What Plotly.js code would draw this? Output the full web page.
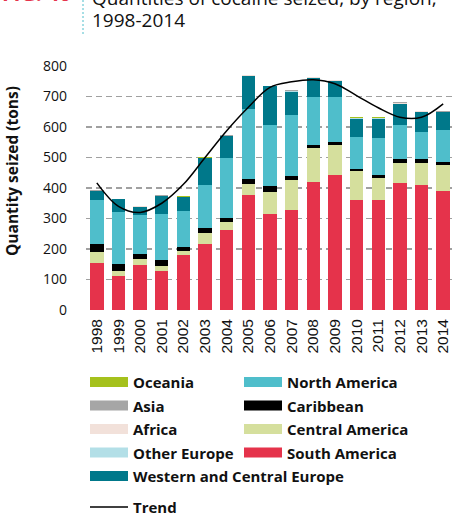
<!DOCTYPE html>
<html>
<head>
<meta charset="utf-8">
<script src="https://cdn.plot.ly/plotly-3.0.1.min.js"></script>
<style>
html,body{margin:0;padding:0;background:#fff;}
#chart{width:454px;height:520px;}
</style>
</head>
<body>
<div id="chart"></div>
<script>
var years = ["1998","1999","2000","2001","2002","2003","2004","2005","2006","2007","2008","2009","2010","2011","2012","2013","2014"];
var southAmerica   = [153,112,147,129,180,218,262,376,316,329,419,444,361,361,418,410,390];
var centralAmerica = [38,17,19,15,13,33,27,38,71,98,112,96,95,73,65,72,84];
var caribbean      = [25,21,19,20,14,18,14,16,19,11,9,10,7,8,12,14,10];
var northAmerica   = [144,172,126,150,118,142,195,230,202,200,160,148,104,122,110,87,105];
var westCentralEurope = [30,42,27,59,46,87,71,106,125,78,60,52,60,63,71,66,60];
var otherEurope    = [1,0.5,1,1,0.5,0.5,1,1,0.5,1,1,1,1,1,1,1,0.5];
var africa         = [0.8,0.4,1.5,1,0.4,0.8,2,2,0.8,2.5,2,2,2,2,2.5,1.5,1.2];
var asia           = [0.3,0.2,0.5,0.5,0.2,0.5,1,1,0.5,1,0.8,0.8,0.8,0.8,1,0.5,0.5];
var oceania        = [0.3,0.2,0.8,0.6,0.2,0.3,0.8,0.8,0.3,0.8,0.8,0.8,0.8,0.8,0.8,0.6,0.5];
var trend          = [417,340,320,350,412,500,588,665,730,748,755,742,703,663,632,632,676];

var seriesNames  = ["South America","Central America","Caribbean","North America","Western and Central Europe","Other Europe","Africa","Asia","Oceania"];
var seriesValues = [southAmerica,centralAmerica,caribbean,northAmerica,westCentralEurope,otherEurope,africa,asia,oceania];
var seriesColors = ["#e5334b","#d5df9d","#000000","#4fbecb","#00788a","#b3dfe7","#f2e1da","#a6a6a6","#a5c11c"];

var traces = [];
for (var i = 0; i < seriesNames.length; i++) {
  traces.push({type:"bar", name:seriesNames[i], x:years, y:seriesValues[i],
    marker:{color:seriesColors[i], line:{width:0}}, showlegend:false, hoverinfo:"name+y"});
}
traces.push({type:"scatter", mode:"lines", name:"Trend", x:years, y:trend,
  line:{color:"#000", width:1.5, shape:"spline", smoothing:1}, showlegend:false});

var W = 454, H = 520, ML = 86, MR = 0, MT = 66, MB = 210;
var PW = W - ML - MR, PH = H - MT - MB;
function px(x){ return (x - ML) / PW; }
function py(y){ return (H - MB - y) / PH; }

var FONT = "Open Sans, Segoe UI, sans-serif";
var shapes = [], annotations = [];

// custom legend (two columns + trend)
var legendCols = [
  [["Oceania","#a5c11c"],["Asia","#a6a6a6"],["Africa","#f2e1da"],["Other Europe","#b3dfe7"],["Western and Central Europe","#00788a"]],
  [["North America","#4fbecb"],["Caribbean","#000000"],["Central America","#d5df9d"],["South America","#e5334b"]]
];
var colX = [90, 244], rowY = [382, 405.5, 429, 452.5, 476];
for (var c = 0; c < legendCols.length; c++) {
  for (var r = 0; r < legendCols[c].length; r++) {
    var it = legendCols[c][r];
    shapes.push({type:"rect", xref:"paper", yref:"paper", x0:px(colX[c]), x1:px(colX[c]+38),
      y0:py(rowY[r]+5), y1:py(rowY[r]-5), fillcolor:it[1], line:{width:0}});
    annotations.push({xref:"paper", yref:"paper", x:px(colX[c]+41), y:py(rowY[r]), xanchor:"left", yanchor:"middle",
      text:"<b>"+it[0]+"</b>", showarrow:false, font:{family:FONT, size:15, color:"#111"}});
  }
}
shapes.push({type:"line", xref:"paper", yref:"paper", x0:px(90), x1:px(128), y0:py(507), y1:py(507), line:{color:"#000", width:1.3}});
annotations.push({xref:"paper", yref:"paper", x:px(131), y:py(507), xanchor:"left", yanchor:"middle",
  text:"<b>Trend</b>", showarrow:false, font:{family:FONT, size:15, color:"#111"}});

// y-axis title
annotations.push({xref:"paper", yref:"paper", x:px(12), y:py(171), xanchor:"center", yanchor:"middle", textangle:-90,
  text:"<b>Quantity seized (tons)</b>", showarrow:false, font:{family:FONT, size:15.5, color:"#111"}});

// header
annotations.push({xref:"paper", yref:"paper", x:px(90), y:py(13.5), xanchor:"left", yanchor:"bottom", align:"left",
  text:"Quantities of cocaine seized, by region,", showarrow:false,
  font:{family:FONT, size:19, color:"#111"}});
annotations.push({xref:"paper", yref:"paper", x:px(90), y:py(35), xanchor:"left", yanchor:"bottom", align:"left",
  text:"1998-2014", showarrow:false,
  font:{family:FONT, size:19, color:"#111"}});
annotations.push({xref:"paper", yref:"paper", x:px(73), y:py(8.5), xanchor:"right", yanchor:"bottom",
  text:"<b>FIG. 40</b>", showarrow:false, font:{family:FONT, size:21, color:"#e5334b"}});
shapes.push({type:"line", xref:"paper", yref:"paper", x0:px(83), x1:px(83), y0:py(0), y1:py(34),
  line:{color:"#4fbecb", width:1, dash:"2px,2px"}});

var layout = {
  width:W, height:H,
  margin:{l:ML, r:MR, t:MT, b:MB, pad:0},
  paper_bgcolor:"#fff", plot_bgcolor:"#fff",
  barmode:"stack", bargap:0.38,
  showlegend:false,
  font:{family:FONT, color:"#111"},
  xaxis:{type:"category", tickangle:-90, showgrid:false, zeroline:false, showline:false, ticks:"",
    tickfont:{family:"Liberation Sans, Arial, sans-serif", size:15.5, color:"#111"}, ticklabelstandoff:5, automargin:false},
  yaxis:{range:[0,800], dtick:100, showgrid:true, gridcolor:"#a0a0a0", gridwidth:1.5, griddash:"6px,4px",
    zeroline:false, showline:false, ticks:"", tickfont:{family:FONT, size:14, color:"#111"}, ticklabelstandoff:18,
    automargin:false},
  shapes:shapes, annotations:annotations
};

Plotly.newPlot("chart", traces, layout, {displayModeBar:false, staticPlot:true});
</script>
</body>
</html>
